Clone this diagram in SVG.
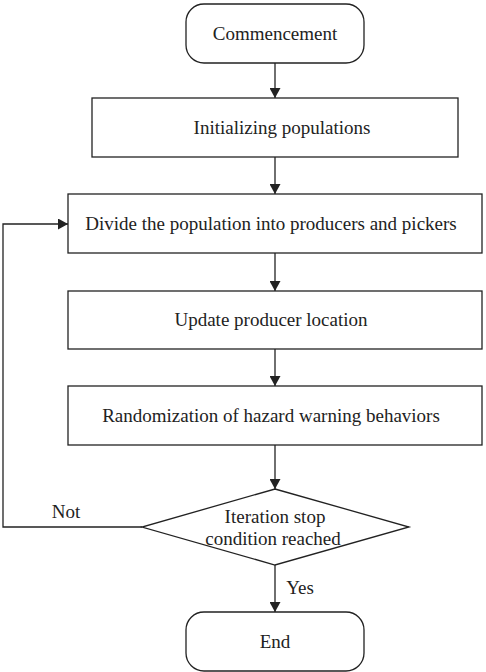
<svg xmlns="http://www.w3.org/2000/svg" width="486" height="672" viewBox="0 0 486 672">
<defs>
<marker id="arr" markerWidth="10" markerHeight="11" refX="10" refY="5.5" orient="auto" markerUnits="userSpaceOnUse">
<path d="M0,0 L10,5.5 L0,11 Z" fill="#222"/>
</marker>
<style>
.n{fill:#fff;stroke:#222;stroke-width:1.3}
.c{fill:none;stroke:#222;stroke-width:1.3}
</style>
</defs>
<rect width="486" height="672" fill="#fff"/>
<g id="connectors">
<line class="c" x1="275" y1="63" x2="275" y2="98" marker-end="url(#arr)"/>
<line class="c" x1="275" y1="157" x2="275" y2="194" marker-end="url(#arr)"/>
<line class="c" x1="275" y1="253" x2="275" y2="291" marker-end="url(#arr)"/>
<line class="c" x1="275" y1="349" x2="275" y2="386" marker-end="url(#arr)"/>
<line class="c" x1="275" y1="445" x2="275" y2="489" marker-end="url(#arr)"/>
<line class="c" x1="275" y1="565" x2="275" y2="612" marker-end="url(#arr)"/>
<polyline class="c" points="142,527 3,527 3,224 68,224" marker-end="url(#arr)"/>
<text x="66" y="518" font-family="Liberation Serif" font-size="19" fill="#222" text-anchor="middle">Not</text>
<text x="300" y="594" font-family="Liberation Serif" font-size="19" fill="#222" text-anchor="middle">Yes</text>
</g>
<g id="start">
<rect class="n" x="186" y="4" width="178" height="59" rx="18"/>
<text x="275" y="40" font-family="Liberation Serif" font-size="19" fill="#222" text-anchor="middle">Commencement</text>
</g>
<g id="init">
<rect class="n" x="92" y="98" width="366" height="59"/>
<text x="282" y="134" font-family="Liberation Serif" font-size="19" fill="#222" text-anchor="middle">Initializing populations</text>
</g>
<g id="divide">
<rect class="n" x="68" y="194" width="414" height="59"/>
<text x="271" y="230" font-family="Liberation Serif" font-size="19" fill="#222" text-anchor="middle">Divide the population into producers and pickers</text>
</g>
<g id="update">
<rect class="n" x="68" y="291" width="414" height="58"/>
<text x="271" y="326" font-family="Liberation Serif" font-size="19" fill="#222" text-anchor="middle">Update producer location</text>
</g>
<g id="random">
<rect class="n" x="68" y="386" width="414" height="59"/>
<text x="271" y="422" font-family="Liberation Serif" font-size="19" fill="#222" text-anchor="middle">Randomization of hazard warning behaviors</text>
</g>
<g id="decision">
<polygon class="n" points="275,489 409,527 275,565 142,527"/>
<text x="275" y="523" font-family="Liberation Serif" font-size="19" fill="#222" text-anchor="middle">Iteration stop</text>
<text x="273" y="545" font-family="Liberation Serif" font-size="19" fill="#222" text-anchor="middle">condition reached</text>
</g>
<g id="end">
<rect class="n" x="186" y="612" width="178" height="59" rx="18"/>
<text x="275" y="648" font-family="Liberation Serif" font-size="19" fill="#222" text-anchor="middle">End</text>
</g>
</svg>
